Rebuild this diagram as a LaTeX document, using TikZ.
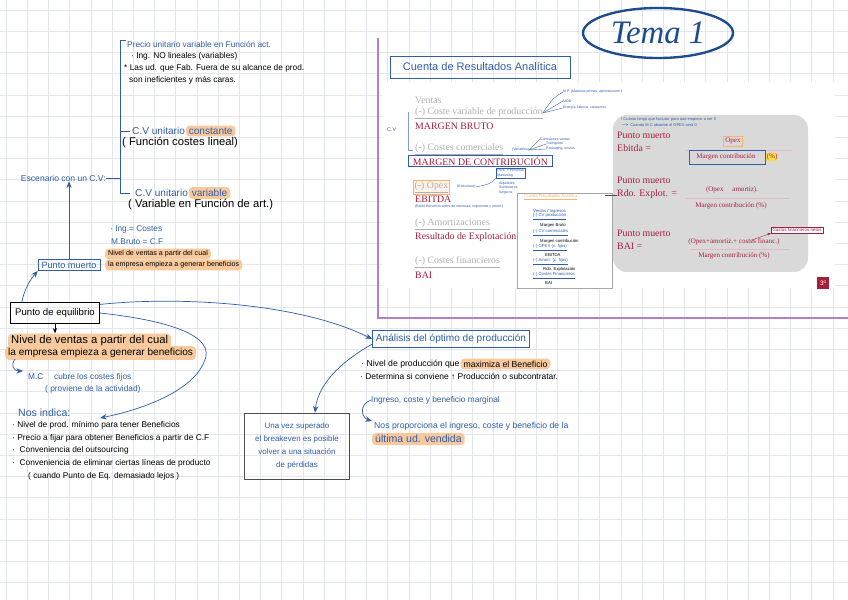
\documentclass[tikz,border=0pt]{standalone}
\usepackage{fontspec}
\setmainfont{Liberation Sans}
\newfontfamily\slidefont{Liberation Serif}
\usetikzlibrary{positioning, shapes.geometric, arrows.meta, calc}
\definecolor{inkBlue}{HTML}{2F5DA8}
\definecolor{inkNavy}{HTML}{1D4B8F}
\definecolor{hlOrange}{HTML}{F8C99C}
\definecolor{gridGray}{HTML}{E3E6EA}
\definecolor{slideRed}{HTML}{A51E3C}
\definecolor{slideGray}{HTML}{B0B0B0}
\definecolor{frameViolet}{HTML}{B57EC9}
\definecolor{panelGray}{HTML}{D9D9D9}
\definecolor{markYellow}{HTML}{F2E04A}

\begin{document}
\begin{tikzpicture}[x=0.3mm, y=-0.3mm,
  hw/.style={inner sep=0pt, anchor=west, font=\fontsize{7.1}{8.5}\selectfont},
  hwbig/.style={inner sep=0pt, anchor=west, font=\fontsize{8.6}{10}\selectfont},
  ink/.style={text=inkBlue},
  hl/.style={fill=hlOrange, rounded corners=3pt, inner xsep=2.5pt, inner ysep=1.8pt},
  inkbox/.style={draw=inkBlue, semithick, inner xsep=3pt, inner ysep=3pt, text=inkBlue},
  sl/.style={inner sep=0pt, anchor=west, font=\slidefont\fontsize{8.4}{10}\selectfont},
  slg/.style={sl, text=slideGray},
  slr/.style={sl, text=slideRed},
  tinytxt/.style={inner sep=0pt, anchor=west, font=\fontsize{3}{3.6}\selectfont, text=inkBlue},
  minitxt/.style={inner sep=0pt, anchor=west, font=\fontsize{3.6}{4}\selectfont},
  arr/.style={-{Stealth[length=2mm, width=1.6mm]}, inkBlue, semithick},
  fracline/.style={draw=slideRed!30, line width=0.5pt}
]
\useasboundingbox (0,0) rectangle (848,600);
\fill[white] (0,0) rectangle (848,600);
\foreach \gx in {6,27.2,...,848} \draw[gridGray, line width=0.4pt] (\gx,0) -- (\gx,600);
\foreach \gy in {10,31.2,...,600} \draw[gridGray, line width=0.4pt] (0,\gy) -- (848,\gy);

% tema
\node[ellipse, draw=inkNavy, line width=2pt, minimum width=45mm, minimum height=15mm,
  text=inkNavy, font=\slidefont\itshape\fontsize{28}{28}\selectfont] (tema) at (658,33) {Tema 1};

% captured slide
\draw[frameViolet, line width=1pt] (378,38) -- (378,318) -- (848,318);
\node[inkbox, minimum width=54mm, minimum height=6.6mm, font=\fontsize{9.4}{10}\selectfont] (cuenta) at (480,67) {Cuenta de Resultados Analítica};
\fill[white] (382,82) rectangle (835,288);

\draw[draw=black!35, fill=white] (517,193) rectangle (612,288);
\node[minitxt, text=hlOrange!70!orange] (miniTitle) at (524,197) {\underline{Cuenta Resultados Analítica}};
\node[minitxt, text=inkBlue] (miniVentas) at (533,211) {Ventas / Ingresos};
\node[minitxt, text=inkBlue] (miniCvp) at (533,217) {\underline{(-) CV producción}};
\node[minitxt] (miniMb) at (540,225) {Margen Bruto};
\node[minitxt, text=inkBlue] (miniCvc) at (533,233) {\underline{(-) CV comerciales}};
\node[minitxt] (miniMc) at (540,241) {Margen contribución};
\node[minitxt, text=inkBlue] (miniOpex) at (533,248) {\underline{(-) OPEX (c. fijos)}};
\node[minitxt] (miniEbitda) at (545,255) {EBITDA};
\node[minitxt, text=inkBlue] (miniAmort) at (533,262) {\underline{(-) Amort. (c. fijos)}};
\node[minitxt] (miniRdo) at (543,269) {Rdo. Explotación};
\node[minitxt, text=inkBlue] (miniCf) at (533,276) {\underline{(-) Costes Financieros}};
\node[minitxt] (miniBai) at (545,283) {BAI};

\node[slg] (ventas) at (415,100) {Ventas};
\node[slg] (cvProd) at (415,113) {\underline{(-) Coste variable de producción}};
\node[slr] (mBrutoS) at (415,126) {MARGEN BRUTO};
\node[slg] (cComerc) at (415,149) {\underline{(-) Costes comerciales}};
\node[slr, draw=inkBlue, inner xsep=4pt, inner ysep=1pt] (mContrib) at (408,161) {MARGEN DE CONTRIBUCIÓN};
\node[slg, draw=orange!60, fill=hlOrange!25, inner sep=1.2pt] (opex) at (413,187) {\underline{(-) Opex}};
\node[slr] (ebitda) at (415,199) {EBITDA};
\node[tinytxt] (baiia) at (415,207) {(BAIIA Beneficio antes de intereses, impuestos y amort.)};
\node[slg] (amort) at (415,224) {\underline{(-) Amortizaciones}};
\node[slr] (rdoExpl) at (415,237) {Resultado de Explotación};
\node[slg] (cFinan) at (415,262) {\underline{(-) Costes financieros}};
\node[slr] (bai) at (415,275) {BAI};

\node[tinytxt, font=\fontsize{4.5}{5}\selectfont] (cvMark) at (387,130) {C.V};
\draw[inkBlue!60, line width=0.5pt] (408,112) -- (408,150) -- (413,150);

\node[tinytxt] (mpNote) at (563,92) {M.P. (Materias primas, aprovisionam.)};
\node[tinytxt] (modNote) at (563,101) {MOD};
\node[tinytxt] (energNote) at (563,108) {Energía, fábrica, consumos};
\draw[inkBlue, line width=0.3pt] (cvProd.east) .. controls (553,98) .. (mpNote.west);
\draw[inkBlue, line width=0.3pt] (cvProd.east) -- (modNote.west);
\draw[inkBlue, line width=0.3pt] (cvProd.east) -- (energNote.west);

\node[tinytxt] (varNote) at (512,150) {(Variables)};
\node[tinytxt] (comisNote) at (540,139) {Comisiones ventas};
\node[tinytxt] (transNote) at (546,144) {Transporte};
\node[tinytxt] (packNote) at (546,149) {Packaging, envíos};
\draw[inkBlue, line width=0.3pt] (varNote.east) -- (comisNote.west);
\draw[inkBlue, line width=0.3pt] (varNote.east) -- (transNote.west);
\draw[inkBlue, line width=0.3pt] (varNote.east) -- (packNote.west);

\node[tinytxt] (estrNote) at (457,187) {(Estructura)};
\node[tinytxt, draw=inkBlue, line width=0.3pt, inner sep=1pt, align=left] (persNote) at (496,173) {Pers. + Personal\\Marketing};
\node[tinytxt, align=left] (alqNote) at (499,188) {Alquileres\\Suministros\\Seguros};
\draw[inkBlue, line width=0.3pt] (estrNote.east) .. controls (490,184) .. (persNote.south west);

% analysis panel
\fill[panelGray, rounded corners=12pt] (613,115) rectangle (808,272);
\node[tinytxt, font=\fontsize{3.4}{5.5}\selectfont, align=left] (panelNote) at (621,122) {/ Cuánto tengo que facturar para que empiece a ser 0\\$\rightarrow$ Cuando M.C absorbe el OPEX será 0};
\node[slr, align=left, font=\slidefont\fontsize{8.4}{11}\selectfont] (pmEbitda) at (617,142) {Punto muerto\\Ebitda =};
\node[sl, text=slideRed, anchor=center, draw=orange!60, inner sep=1.5pt, font=\slidefont\fontsize{6}{7}\selectfont] (opexNum) at (733,141) {Opex};
\draw[fracline] (685,150) -- (792,150);
\draw[inkBlue, line width=0.6pt] (689,150) rectangle (765,164);
\node[sl, text=slideRed, anchor=center, font=\slidefont\fontsize{6}{7}\selectfont] (mcDen1) at (726,157) {Margen contribución};
\node[sl, text=slideRed, fill=markYellow, inner sep=0.5pt, font=\slidefont\fontsize{6}{7}\selectfont] (pctMark) at (766,157) {(\%)};

\node[slr, align=left, font=\slidefont\fontsize{8.4}{11}\selectfont] (pmRdo) at (617,188) {Punto muerto\\Rdo. Explot. =};
\node[sl, text=slideRed, anchor=center, font=\slidefont\fontsize{6}{7}\selectfont] (rdoNum) at (732,190) {(Opex \quad amortiz).};
\draw[fracline] (686,198) -- (790,198);
\node[sl, text=slideRed, anchor=center, font=\slidefont\fontsize{6}{7}\selectfont] (mcDen2) at (731,206) {Margen contribución (\%)};
\draw[black!70, line width=0.4pt] (605,195) -- (pmRdo.west |- 0,195);

\node[slr, align=left, font=\slidefont\fontsize{8.4}{11}\selectfont] (pmBai) at (617,240) {Punto muerto\\BAI =};
\node[sl, text=slideRed, anchor=center, font=\slidefont\fontsize{6}{7}\selectfont] (baiNum) at (734,242) {(Opex+amortiz.+ costes financ.)};
\draw[fracline] (690,249) -- (790,249);
\node[sl, text=slideRed, anchor=center, font=\slidefont\fontsize{6}{7}\selectfont] (mcDen3) at (734,256) {Margen contribución (\%)};
\node[draw=slideRed, fill=white, inner sep=1.2pt, text=slideRed, font=\fontsize{3.8}{4}\selectfont] (gastosFin) at (797,230) {Gastos financieros netos};
\draw[-{Stealth[length=1mm]}, slideRed, line width=0.3pt] (752,240) -- (gastosFin.south west);
\node[fill=slideRed, text=white, minimum size=3.6mm, inner sep=0pt, font=\fontsize{5.5}{6}\selectfont] (pageNum) at (823,283) {3º};

% precio y coste variable
\draw[inkBlue, semithick] (126,40) -- (120,40) -- (120,193) -- (130,193);
\draw[inkBlue, semithick] (120,131) -- (130,131);
\node[hw, ink] (precio) at (127,44) {Precio unitario variable en Función act.};
\node[hw] (ingNo) at (131,56) {· Ing. NO lineales (variables)};
\node[hw] (lasUd) at (124,68) {* Las ud. que Fab. Fuera de su alcance de prod.};
\node[hw] (sonInef) at (129,80) {son ineficientes y más caras.};

\node[hwbig, ink] (cvConst) at (132,131) {C.V unitario};
\node[hwbig, hl, ink, right=0.5pt of cvConst] (constante) {constante};
\node[hwbig, font=\fontsize{9.6}{11}\selectfont] (funcLin) at (122,143) {( Función costes lineal)};

\node[hw, ink, anchor=east, font=\fontsize{7.3}{8}\selectfont] (escenario) at (106,178) {Escenario con un C.V:};
\draw[inkBlue, semithick] (escenario.east) -- (120,178);

\node[hwbig, ink] (cvVar) at (135,193) {C.V unitario};
\node[hwbig, hl, ink, right=0.5pt of cvVar] (variable) {variable};
\node[hwbig, font=\fontsize{9.6}{11}\selectfont] (varFunc) at (128,205) {( Variable en Función de art.)};

% punto muerto
\node[inkbox, inner ysep=2pt, font=\fontsize{7.8}{9}\selectfont] (pMuerto) at (69,265) {Punto muerto};
\draw[arr] (pMuerto.north) -- (pMuerto.north |- escenario.south);
\node[hw, ink] (ingCostes) at (110,229) {· Ing.= Costes};
\node[hw, ink] (mBruto) at (111,242) {M.Bruto = C.F};
\node[hw, hl, font=\fontsize{6.1}{7}\selectfont] (nivelA) at (105,254) {Nivel de ventas a partir del cual};
\node[hw, hl, font=\fontsize{6.1}{7}\selectfont] (empresaA) at (105,265) {la empresa empieza a generar beneficios};

% punto de equilibrio
\node[draw, semithick, inner xsep=4pt, inner ysep=5pt, font=\fontsize{8.2}{10}\selectfont] (pEquil) at (55,313) {Punto de equilibrio};
\draw[arr] ($(pEquil.north west)!0.13!(pEquil.north east)$) .. controls (24,290) and (30,280) .. (pMuerto.south west);
\node[hwbig, hl, font=\fontsize{9.6}{10}\selectfont] (nivelB) at (8,341) {Nivel de ventas a partir del cual};
\node[hwbig, hl] (empresaB) at (5,353) {la empresa empieza a generar beneficios};
\draw[-{Stealth[length=1.6mm]}, semithick] (pEquil.south) -- (pEquil.south |- nivelB.north);

\draw[arr] (15,359) .. controls (10,366) and (14,371) .. (23,371);
\node[hw, ink] (mcCubre) at (28,377) {M.C \quad cubre los costes fijos};
\node[hw, ink] (proviene) at (45,389) {( proviene de la actividad)};
\node[hwbig, ink, font=\fontsize{9}{10}\selectfont] (nosIndica) at (18,413) {Nos indica:};
\coordinate (nosTip) at (100,418);
\draw[arr] (pEquil.east) .. controls (165,320) and (218,335) .. (204,362) .. controls (192,392) and (140,410) .. (nosTip);

\node[hw] (nivelProd) at (12,425) {· Nivel de prod. mínimo para tener Beneficios};
\node[hw] (precioFijar) at (12,438) {· Precio a fijar para obtener Beneficios a partir de C.F};
\node[hw] (outsourcing) at (12,450) {· \ Conveniencia del outsourcing};
\node[hw] (eliminar) at (12,463) {· \ Conveniencia de eliminar ciertas líneas de producto};
\node[hw] (lejos) at (28,476) {( cuando Punto de Eq. demasiado lejos )};

% optimo de produccion
\node[inkbox, font=\fontsize{8.6}{10}\selectfont] (analisis) at (451,339) {Análisis del óptimo de producción};
\draw[arr] ($(pEquil.north east)!0.2!(pEquil.east)$) .. controls (180,296) and (300,303) .. (analisis.west);
\node[draw=black!70, semithick, minimum width=31.5mm, minimum height=19.8mm, align=center, text=inkBlue,
  font=\fontsize{6.8}{11}\selectfont] (unaVez) at (297,446) {Una vez superado\\el breakeven es posible\\volver a una situación\\de pérdidas};
\draw[arr] ($(analisis.south west)!0.4!(analisis.west)$) .. controls (340,362) and (318,385) .. (unaVez.north -| 315,0);

\node[hw, font=\fontsize{7.4}{8}\selectfont] (nivelOpt) at (361,364) {· Nivel de producción que};
\node[hw, hl, font=\fontsize{7.4}{8}\selectfont, right=0.5pt of nivelOpt] (maximiza) {maximiza el Beneficio};
\node[hw, font=\fontsize{7.2}{8}\selectfont] (determina) at (360,377) {· Determina si conviene ↑ Producción o subcontratar.};
\node[hw, ink] (marginal) at (371,400) {Ingreso, coste y beneficio marginal};
\draw[arr] (marginal.west) .. controls (358,405) and (362,418) .. (372,421);
\node[hw, ink, font=\fontsize{7.4}{8}\selectfont] (proporciona) at (374,426) {Nos proporciona el ingreso, coste y beneficio de la};
\node[hwbig, hl, ink, font=\fontsize{9}{10}\selectfont] (ultima) at (372,439) {última ud. vendida};
\end{tikzpicture}
\end{document}
